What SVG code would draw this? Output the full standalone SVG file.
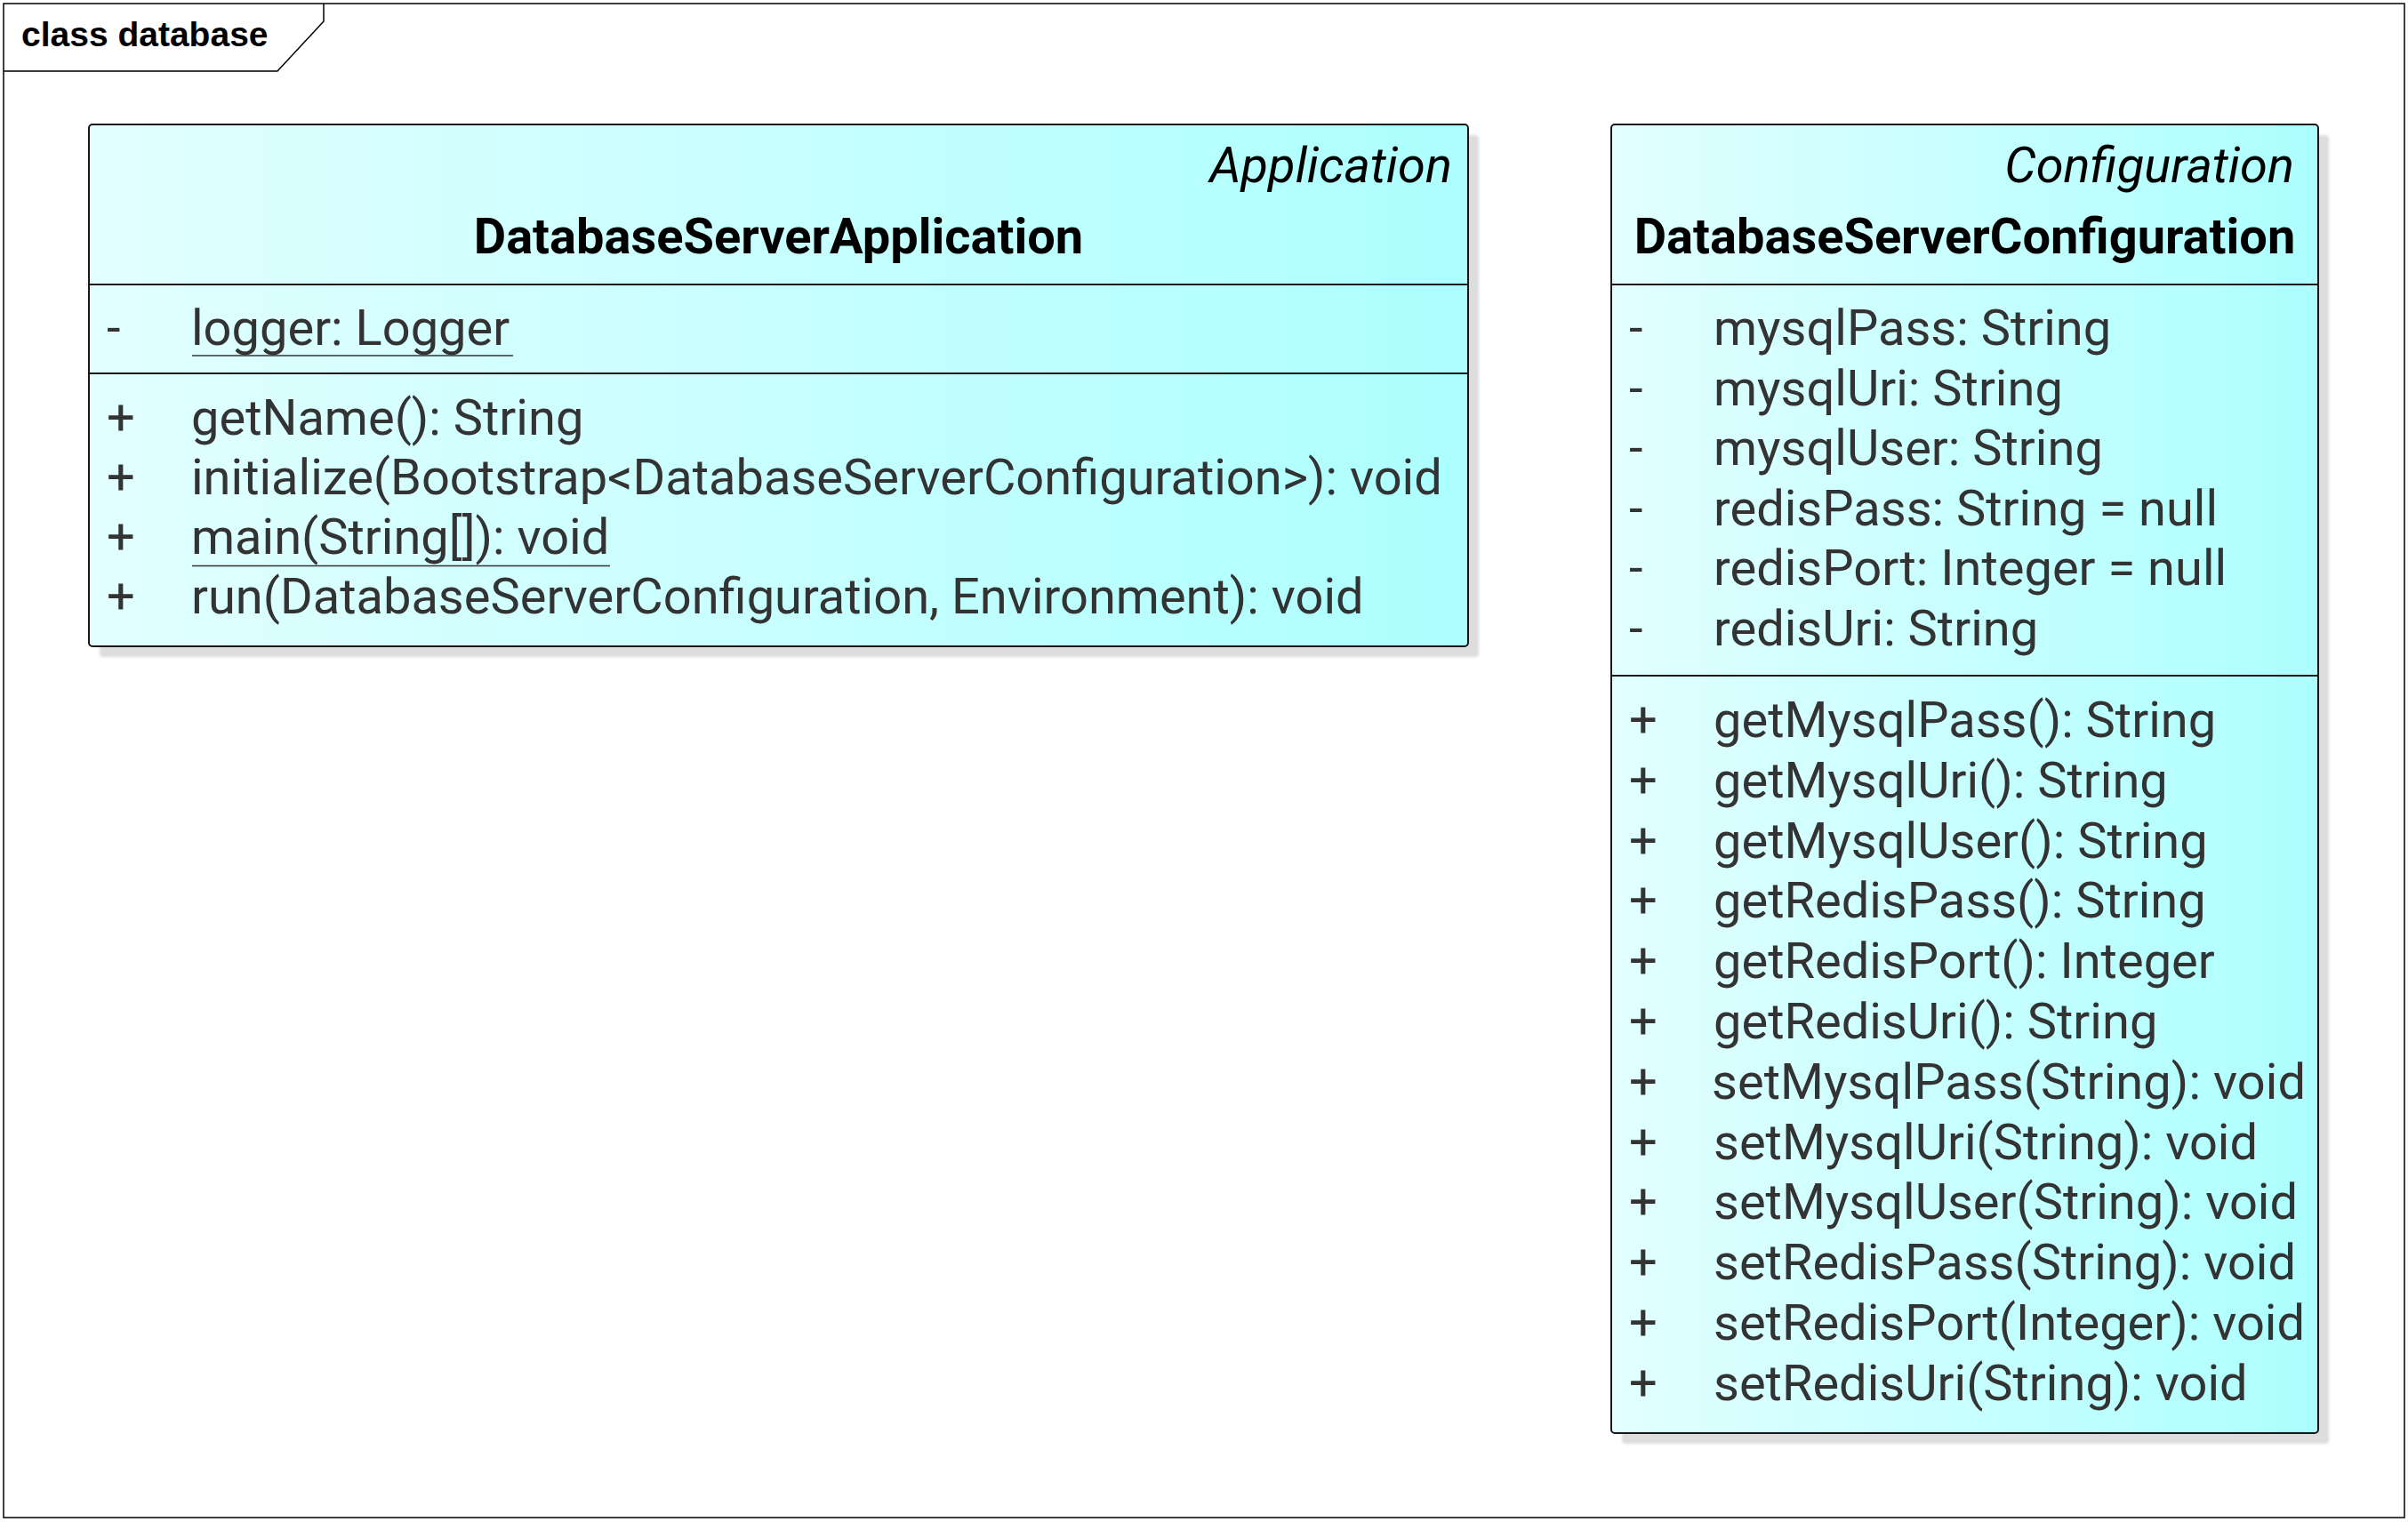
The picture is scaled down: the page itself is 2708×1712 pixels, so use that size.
<svg xmlns="http://www.w3.org/2000/svg" width="2708" height="1712" viewBox="0 0 2708 1712">
<defs>
<linearGradient id="fillg" x1="0" y1="0" x2="1" y2="0">
<stop offset="0" stop-color="#E2FFFF"/>
<stop offset="1" stop-color="#ADFFFF"/>
</linearGradient>
<filter id="shadow" x="-5%" y="-5%" width="110%" height="110%">
<feGaussianBlur stdDeviation="1.5"/>
</filter>
<style>
.frame{fill:none;stroke:#000;stroke-width:1.5}
.box{fill:url(#fillg);stroke:#181818;stroke-width:2}
.shd{fill:#DDDDDD;filter:url(#shadow)}
.sep{stroke:#181818;stroke-width:1.8}
.title{font-family:"Liberation Sans",Arial,sans-serif;font-weight:bold;font-size:39px;fill:#000}
.stereo{font-family:Roboto,"Noto Sans",sans-serif;font-style:italic;font-size:56px;fill:#000}
.name{font-family:Roboto,"Noto Sans",sans-serif;font-weight:bold;font-size:56px;fill:#000}
.mem{font-family:Roboto,"Noto Sans",sans-serif;font-size:56px;fill:#333333}
.ul{stroke:#333333;stroke-width:1.5}
</style>
</defs>
<g id="frame">
<rect class="frame" x="4" y="4" width="2700" height="1703"/>
<path class="frame" d="M4,80 L312,80 L364,24 L364,4"/>
<text class="title" x="24" y="52">class database</text>
</g>
<g id="DatabaseServerApplication">
<rect class="shd" x="112" y="152" width="1551" height="587" rx="4"/>
<rect class="box" x="100" y="140" width="1551" height="587" rx="4"/>
<text class="stereo" x="1633" y="205" text-anchor="end">Application</text>
<text class="name" x="875.5" y="285" text-anchor="middle">DatabaseServerApplication</text>
<line class="sep" x1="100" y1="320" x2="1651" y2="320"/>
<text class="mem" x="120" y="388">-</text>
<text class="mem" x="215" y="388">logger: Logger</text>
<line class="ul" x1="216" y1="400" x2="577" y2="400"/>
<line class="sep" x1="100" y1="420" x2="1651" y2="420"/>
<text class="mem" x="120" y="489">+</text>
<text class="mem" x="215" y="489">getName(): String</text>
<text class="mem" x="120" y="556">+</text>
<text class="mem" x="215" y="556">initialize(Bootstrap&lt;DatabaseServerConfiguration&gt;): void</text>
<text class="mem" x="120" y="623">+</text>
<text class="mem" x="215" y="623">main(String[]): void</text>
<line class="ul" x1="216" y1="636.5" x2="686" y2="636.5"/>
<text class="mem" x="120" y="690">+</text>
<text class="mem" x="215" y="690">run(DatabaseServerConfiguration, Environment): void</text>
</g>
<g id="DatabaseServerConfiguration">
<rect class="shd" x="1824" y="152" width="795" height="1472" rx="4"/>
<rect class="box" x="1812" y="140" width="795" height="1472" rx="4"/>
<text class="stereo" x="2580" y="205" text-anchor="end">Configuration</text>
<text class="name" x="2209.5" y="285" text-anchor="middle">DatabaseServerConfiguration</text>
<line class="sep" x1="1812" y1="320" x2="2607" y2="320"/>
<text class="mem" x="1832" y="388">-</text>
<text class="mem" x="1927" y="388">mysqlPass: String</text>
<text class="mem" x="1832" y="455.5">-</text>
<text class="mem" x="1927" y="455.5">mysqlUri: String</text>
<text class="mem" x="1832" y="523">-</text>
<text class="mem" x="1927" y="523">mysqlUser: String</text>
<text class="mem" x="1832" y="590.5">-</text>
<text class="mem" x="1927" y="590.5">redisPass: String = null</text>
<text class="mem" x="1832" y="658">-</text>
<text class="mem" x="1927" y="658">redisPort: Integer = null</text>
<text class="mem" x="1832" y="725.5">-</text>
<text class="mem" x="1927" y="725.5">redisUri: String</text>
<line class="sep" x1="1812" y1="760" x2="2607" y2="760"/>
<text class="mem" x="1832" y="829">+</text>
<text class="mem" x="1927" y="829">getMysqlPass(): String</text>
<text class="mem" x="1832" y="896.8">+</text>
<text class="mem" x="1927" y="896.8">getMysqlUri(): String</text>
<text class="mem" x="1832" y="964.6">+</text>
<text class="mem" x="1927" y="964.6">getMysqlUser(): String</text>
<text class="mem" x="1832" y="1032.4">+</text>
<text class="mem" x="1927" y="1032.4">getRedisPass(): String</text>
<text class="mem" x="1832" y="1100.2">+</text>
<text class="mem" x="1927" y="1100.2">getRedisPort(): Integer</text>
<text class="mem" x="1832" y="1168">+</text>
<text class="mem" x="1927" y="1168">getRedisUri(): String</text>
<text class="mem" x="1832" y="1235.8">+</text>
<text class="mem" x="1925" y="1235.8" textLength="668" lengthAdjust="spacing">setMysqlPass(String): void</text>
<text class="mem" x="1832" y="1303.6">+</text>
<text class="mem" x="1927" y="1303.6">setMysqlUri(String): void</text>
<text class="mem" x="1832" y="1371.4">+</text>
<text class="mem" x="1927" y="1371.4">setMysqlUser(String): void</text>
<text class="mem" x="1832" y="1439.2">+</text>
<text class="mem" x="1927" y="1439.2">setRedisPass(String): void</text>
<text class="mem" x="1832" y="1507">+</text>
<text class="mem" x="1927" y="1507">setRedisPort(Integer): void</text>
<text class="mem" x="1832" y="1574.8">+</text>
<text class="mem" x="1927" y="1574.8">setRedisUri(String): void</text>
</g>
<g id="connectors"></g>
</svg>
